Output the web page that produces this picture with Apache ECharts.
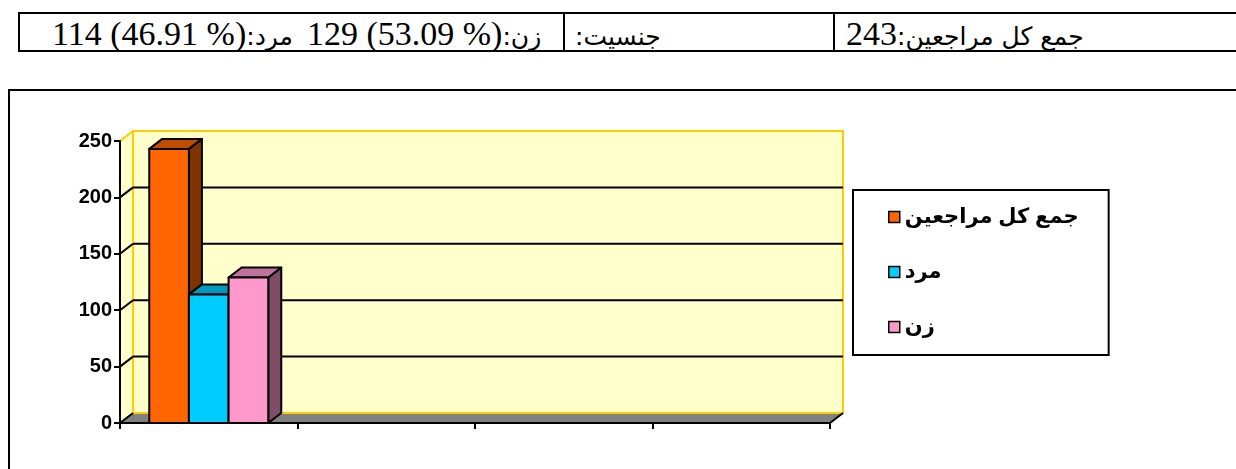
<!DOCTYPE html>
<html>
<head>
<meta charset="utf-8">
<script src="https://cdn.jsdelivr.net/npm/echarts@6/dist/echarts.min.js"></script>
<style>
  body { margin: 0; background: #fff; width: 1236px; height: 469px; overflow: hidden; position: relative; }
  .cell { position: absolute; top: 12px; height: 40px; border: 2px solid #000; box-sizing: border-box;
          font-family: "Liberation Serif", "DejaVu Sans", serif; font-size: 34px; line-height: 39px;
          white-space: nowrap; direction: ltr; }
  .cell span { display: inline-block; unicode-bidi: isolate; }
  .ar { font-family: "DejaVu Sans", sans-serif; font-size: 25px; }
  #frame { position: absolute; left: 8px; top: 89px; width: 1240px; height: 420px; border: 2px solid #000; }
  #chart { position: absolute; left: 0; top: 0; width: 1236px; height: 469px; }
</style>
</head>
<body>
<div class="cell" style="left:18px; width:547px; padding-left:32px;"><span dir="ltr">114 (46.91 %)</span><span class="ar" dir="rtl">مرد:</span><span dir="ltr" style="margin-left:14px;">129 (53.09 %)</span><span class="ar" dir="rtl">زن:</span></div>
<div class="cell" style="left:563px; width:272px; padding-left:12px; border-left:none;"><span class="ar" dir="rtl">جنسيت:</span></div>
<div class="cell" style="left:833px; width:420px; padding-left:11px;"><span dir="ltr">243</span><span class="ar" dir="rtl">جمع کل مراجعين:</span></div>
<div id="frame"></div>
<div id="chart"></div>
<script type="text/javascript">
// داده ها
var categories = ['1', '2', '3', '4'];
var seriesNames = ['جمع کل مراجعين', 'مرد', 'زن'];
var totalVals = [243, null, null, null];
var menVals = [114, null, null, null];
var womenVals = [129, null, null, null];
var yTicks = [0, 50, 100, 150, 200, 250];

var DX = 13, DY = -10;   // عمق سه بعدی
var FONT = 'Arial, "DejaVu Sans", sans-serif';

function toPairs(arr) {
    return arr.map(function (v, i) { return [i, v]; });
}

function barRender(k, col) {
    return function (params, api) {
        var v = api.value(1);
        if (v == null || isNaN(v)) return;
        var c = api.coord([api.value(0), v]);
        var base = api.coord([api.value(0), 0]);
        var band = api.size([1, 0])[0];
        var w = band * 0.2235;
        var x = c[0] + (k - 1.5) * w;
        var yt = c[1], yb = base[1];
        var st = { stroke: '#000', lineWidth: 2, lineJoin: 'round' };
        return {
            type: 'group',
            children: [
                { type: 'polygon', shape: { points: [[x + w, yt], [x + w + DX, yt + DY], [x + w + DX, yb + DY], [x + w, yb]] },
                  style: Object.assign({ fill: col.side }, st) },
                { type: 'polygon', shape: { points: [[x, yt], [x + DX, yt + DY], [x + w + DX, yt + DY], [x + w, yt]] },
                  style: Object.assign({ fill: col.top }, st) },
                { type: 'rect', shape: { x: x, y: yt, width: w, height: yb - yt },
                  style: Object.assign({ fill: col.front }, st) }
            ]
        };
    };
}

function wallRender(params, api) {
    var cs = params.coordSys;
    var x0 = cs.x, x1 = cs.x + cs.width, yt = cs.y, yb = cs.y + cs.height;
    var kids = [];
    // left wall
    kids.push({ type: 'polygon', shape: { points: [[x0, yb], [x0 + DX, yb + DY], [x0 + DX, yt + DY], [x0, yt]] },
                style: { fill: '#FFFFCC', stroke: null } });
    // floor
    kids.push({ type: 'polygon', shape: { points: [[x0, yb], [x1, yb], [x1 + DX, yb + DY], [x0 + DX, yb + DY]] },
                style: { fill: '#808080', stroke: null } });
    // back wall
    kids.push({ type: 'rect', shape: { x: x0 + DX, y: yt + DY, width: x1 - x0, height: yb - yt },
                style: { fill: '#FFFFCC', stroke: '#FFCC00', lineWidth: 2 } });
    kids.push({ type: 'line', shape: { x1: x0 + DX, y1: yt + DY, x2: x0, y2: yt },
                style: { stroke: '#FFCC00', lineWidth: 2 } });
    kids.push({ type: 'line', shape: { x1: x1, y1: yb, x2: x1 + DX, y2: yb + DY },
                style: { stroke: '#000', lineWidth: 2 } });
    yTicks.forEach(function (t) {
        var y = api.coord([0, t])[1];
        if (t > 0 && t < 250) {
            kids.push({ type: 'line', shape: { x1: x0 + DX, y1: y + DY, x2: x1 + DX, y2: y + DY },
                        style: { stroke: '#000', lineWidth: 2 } });
        }
        if (t < 250) {
            kids.push({ type: 'line', shape: { x1: x0, y1: y, x2: x0 + DX, y2: y + DY },
                        style: { stroke: '#000', lineWidth: 2 } });
        }
    });
    return { type: 'group', children: kids };
}

var chart = echarts.init(document.getElementById('chart'));
var option = {
    animation: false,
    backgroundColor: 'transparent',
    grid: { left: 120, right: 406, top: 141, bottom: 46 },
    xAxis: {
        type: 'category', data: categories, z: 10,
        axisLine: { lineStyle: { color: '#000', width: 2 } },
        axisTick: { show: true, length: 6, interval: 0, lineStyle: { color: '#000', width: 2 } },
        axisLabel: { show: false },
        splitLine: { show: false }
    },
    yAxis: {
        type: 'value', min: 0, max: 250, interval: 50, z: 10,
        axisLine: { show: true, lineStyle: { color: '#000', width: 2 } },
        axisTick: { show: true, length: 6, lineStyle: { color: '#000', width: 2 } },
        axisLabel: { margin: 8, color: '#000', fontFamily: FONT, fontWeight: 'bold', fontSize: 20 },
        splitLine: { show: false }
    },
    legend: {
        data: seriesNames,
        orient: 'vertical', left: 853, top: 190,
        icon: 'rect', itemWidth: 11, itemHeight: 11, itemGap: 33,
        padding: [16, 30, 17, 35],
        borderColor: '#000', borderWidth: 2,
        selectedMode: false,
        itemStyle: { borderColor: '#000', borderWidth: 1.5 },
        textStyle: { fontFamily: FONT, fontWeight: 'bold', fontSize: 21, color: '#000', lineHeight: 22 }
    },
    series: [
        { type: 'custom', name: 'walls', silent: true, z: 1, data: [[0, 0]],
          encode: { x: 0, y: 1 }, renderItem: wallRender },
        { type: 'custom', name: seriesNames[0], z: 3, data: toPairs(totalVals), encode: { x: 0, y: 1 },
          itemStyle: { color: '#FF6600' },
          renderItem: barRender(0, { front: '#FF6600', top: '#C04C00', side: '#7F3300' }) },
        { type: 'custom', name: seriesNames[1], z: 3, data: toPairs(menVals), encode: { x: 0, y: 1 },
          itemStyle: { color: '#00CCFF' },
          renderItem: barRender(1, { front: '#00CCFF', top: '#0099BF', side: '#006680' }) },
        { type: 'custom', name: seriesNames[2], z: 3, data: toPairs(womenVals), encode: { x: 0, y: 1 },
          itemStyle: { color: '#FF99CC' },
          renderItem: barRender(2, { front: '#FF99CC', top: '#C0739A', side: '#804C66' }) }
    ]
};
chart.setOption(option);
</script>
</body>
</html>
